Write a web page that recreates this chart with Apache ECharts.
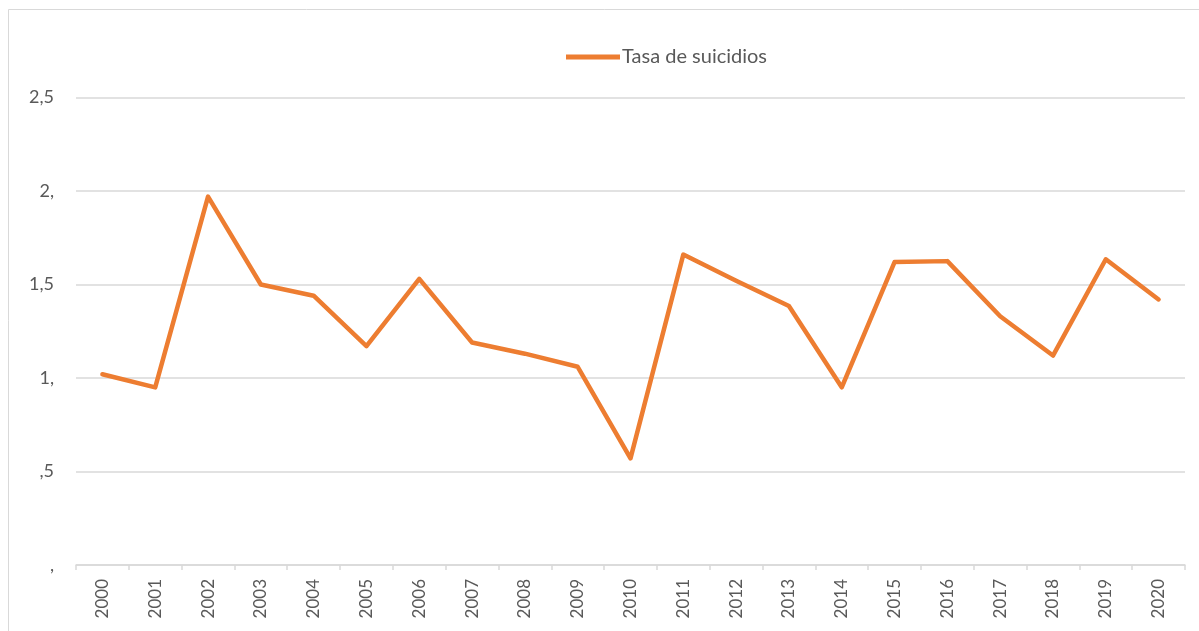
<!DOCTYPE html>
<html>
<head>
<meta charset="utf-8">
<script src="https://cdn.jsdelivr.net/npm/echarts@6/dist/echarts.min.js"></script>
<style>
html,body{margin:0;padding:0;background:#fff;}
#chart{width:1199px;height:631px;}
</style>
</head>
<body>
<div id="chart"></div>
<script>
const years = ['2000','2001','2002','2003','2004','2005','2006','2007','2008','2009','2010','2011','2012','2013','2014','2015','2016','2017','2018','2019','2020'];
const tasa = [1.02,0.95,1.97,1.50,1.44,1.17,1.53,1.19,1.13,1.06,0.57,1.66,1.52,1.385,0.95,1.62,1.625,1.33,1.12,1.635,1.42];
const yTickValues = [0, 0.5, 1, 1.5, 2, 2.5];
const yTickLabels = [',', ',5', '1,', '1,5', '2,', '2,5'];
const seriesName = 'Tasa de suicidios';

const FONT = 'Lato, "Liberation Sans", sans-serif';
const chart = echarts.init(document.getElementById('chart'), null, {renderer:'canvas'});
chart.setOption({
  animation:false,
  backgroundColor:'#ffffff',
  graphic:[{
    type:'rect', silent:true, z:-1,
    shape:{x:8.5,y:9.5,width:1300,height:1000},
    style:{fill:'none',stroke:'#d9d9d9',lineWidth:1}
  }],
  legend:{
    data:[seriesName],
    left:561, top:42,
    icon:'rect',
    itemWidth:54, itemHeight:5,
    itemGap:10,
    textStyle:{color:'#595959',fontSize:20,fontFamily:FONT,padding:[0,0,0,-3]}
  },
  grid:{left:76,right:14,top:97.5,bottom:66,containLabel:false},
  xAxis:{
    type:'category',
    data:years,
    boundaryGap:true,
    axisLine:{lineStyle:{color:'#d9d9d9',width:1.5}},
    axisTick:{show:true,length:5,lineStyle:{color:'#d9d9d9',width:1.5}},
    axisLabel:{rotate:90,color:'#595959',fontSize:17,fontFamily:FONT,margin:14,interval:0}
  },
  yAxis:{
    type:'value',
    min:0,max:2.5,interval:0.5,
    axisLine:{show:false},
    axisTick:{show:false},
    splitLine:{lineStyle:{color:'#d9d9d9',width:1.5}},
    axisLabel:{
      color:'#595959',fontSize:18,fontFamily:FONT,margin:22,
      formatter:function(v){
        const i = yTickValues.findIndex(t=>Math.abs(t-v)<1e-9);
        return i>=0 ? yTickLabels[i] : '';
      }
    }
  },
  series:[{
    name:seriesName,
    type:'line',
    data:tasa,
    symbol:'none',
    lineStyle:{color:'#ED7D31',width:4.5,cap:'round',join:'round'},
    itemStyle:{color:'#ED7D31'}
  }]
});
</script>
</body>
</html>
